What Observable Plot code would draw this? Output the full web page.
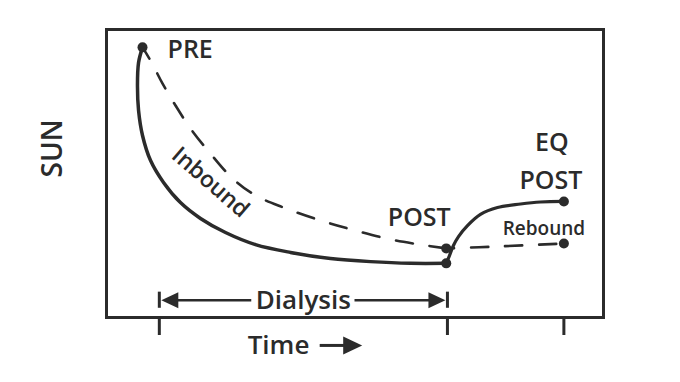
<!DOCTYPE html>
<html>
<head>
<meta charset="utf-8">
<script src="https://cdn.jsdelivr.net/npm/d3@7"></script>
<script src="https://cdn.jsdelivr.net/npm/@observablehq/plot@0.6"></script>
<style>
  html, body { margin: 0; padding: 0; background: #ffffff; }
</style>
</head>
<body>
<div id="chart"></div>
<script>
// Time axis (minutes from start of dialysis), schematic
const tickTimes = [0, 240, 337];

// Solid curve: SUN during dialysis (inbound)
const inboundT   = [-14, -17.3, -18.2, -17.3, -14, -7.3, 3.5, 17.6, 34.3, 55.1, 80.1, 109.3, 142.6, 175.9, 209.2, 239];
const inboundSUN = [93.8, 88.5, 80.6, 71.9, 63.2, 54.5, 46.9, 39.9, 34.4, 29.5, 25.3, 22.6, 20.5, 19.4, 18.8, 18.8];

// Solid curve: SUN after dialysis (rebound)
const reboundT   = [239, 241.7, 245, 249.2, 256.7, 267.5, 281.7, 300.9, 317.5, 337];
const reboundSUN = [18.8, 21.5, 25, 28.1, 31.9, 35.8, 38.2, 39.4, 40.1, 40.3];

// Dashed curve: single-pool model (no inbound / no rebound)
const poolT   = [-14, -7.3, 2.6, 13.5, 26, 42.6, 61, 80.1, 103.4, 134.3, 163.4, 192.6, 217.6, 239];
const poolSUN = [93.8, 89.2, 81.3, 73.6, 65.6, 56.9, 48.3, 42.4, 38.2, 33.7, 30.2, 27.1, 25.3, 24.0];
const poolAfterT   = [239, 284, 337];
const poolAfterSUN = [24.0, 24.7, 25.7];

const ink = "#2b2b2b";
const toRows = (ts, vs) => ts.map((t, i) => ({t, s: vs[i]}));
const inbound = toRows(inboundT, inboundSUN);
const rebound = toRows(reboundT, reboundSUN);
const pool = toRows(poolT, poolSUN);
const poolAfter = toRows(poolAfterT, poolAfterSUN);

const prePt = inbound[0];
const postSolid = inbound[inbound.length - 1];
const postDash = pool[pool.length - 1];
const eqSolid = rebound[rebound.length - 1];
const eqDash = poolAfter[poolAfter.length - 1];
const dots = [prePt, postSolid, postDash, eqSolid, eqDash];

// arrowhead symbols, tip at the anchor point
const arrowHead = (dir, len, half) => ({draw(c) { c.moveTo(0, 0); c.lineTo(-dir * len, -half); c.lineTo(-dir * len, half); c.closePath(); }});
const dialLeft = arrowHead(-1, 17, 8);
const dialRight = arrowHead(1, 17, 8);
const timeHead = arrowHead(1, 19, 9);

const dialY = 6;       // level of the Dialysis bracket
const dialMid = (tickTimes[0] + tickTimes[1]) / 2;
const timeY = -9.7;    // level of the "Time" label below the frame
const font = "'Open Sans', sans-serif";

const chart = Plot.plot({
  width: 680,
  height: 382,
  marginLeft: 106,
  marginRight: 77,
  marginTop: 29,
  marginBottom: 65,
  x: {domain: [-44, 370], axis: null},
  y: {domain: [0, 100], axis: null},
  style: {fontFamily: font, background: "#ffffff", color: ink, overflow: "visible"},
  marks: [
    Plot.frame({stroke: ink, strokeWidth: 3}),
    Plot.axisX({ticks: tickTimes, tickSize: 18, tickFormat: () => "", stroke: ink, strokeWidth: 3, label: null}),
    // dashed model
    Plot.line(pool, {x: "t", y: "s", curve: "catmull-rom", stroke: ink, strokeWidth: 2.6, strokeDasharray: "17,17", strokeDashoffset: 4}),
    Plot.line(poolAfter, {x: "t", y: "s", curve: "catmull-rom", stroke: ink, strokeWidth: 2.6, strokeDasharray: "17,17", strokeDashoffset: 9}),
    // solid measured curves
    Plot.line(inbound, {x: "t", y: "s", curve: "catmull-rom", stroke: ink, strokeWidth: 3.5}),
    Plot.line(rebound, {x: "t", y: "s", curve: "catmull-rom", stroke: ink, strokeWidth: 3.2}),
    Plot.dot(dots, {x: "t", y: "s", r: 5, fill: ink, stroke: "none"}),
    // labels
    Plot.text([prePt], {x: "t", y: "s", text: () => "PRE", textAnchor: "start", dx: 25, dy: 3, fontSize: 25, fontWeight: 600, fill: ink}),
    Plot.text([postDash], {x: "t", y: "s", text: () => "POST", dx: -27, dy: -30, fontSize: 25, fontWeight: 600, fill: ink}),
    Plot.text([eqSolid], {x: "t", y: "s", text: () => "EQ", dx: -12, dy: -58, fontSize: 25, fontWeight: 600, fill: ink}),
    Plot.text([eqSolid], {x: "t", y: "s", text: () => "POST", dx: -13, dy: -20, fontSize: 25, fontWeight: 600, fill: ink}),
    Plot.text([eqDash], {x: "t", y: "s", text: () => "Rebound", dx: -20, dy: -15, fontSize: 19, fontWeight: 600, fill: ink}),
    Plot.text([{t: 42.6, s: 46.9}], {x: "t", y: "s", text: () => "Inbound", rotate: 41, fontSize: 23, fontWeight: 600, fill: ink}),
    // Dialysis bracket
    Plot.ruleX([tickTimes[0], tickTimes[1]], {y1: dialY - 2.8, y2: dialY + 2.8, stroke: ink, strokeWidth: 3}),
    Plot.ruleY([dialY], {x1: tickTimes[0] + 5, x2: dialMid - 43, stroke: ink, strokeWidth: 2.5}),
    Plot.ruleY([dialY], {x1: dialMid + 43, x2: tickTimes[1] - 5, stroke: ink, strokeWidth: 2.5}),
    Plot.dot([{t: tickTimes[0], s: dialY}], {x: "t", y: "s", symbol: dialLeft, r: 8, dx: 2, fill: ink, stroke: "none"}),
    Plot.dot([{t: tickTimes[1], s: dialY}], {x: "t", y: "s", symbol: dialRight, r: 8, dx: -2, fill: ink, stroke: "none"}),
    Plot.text([{t: dialMid, s: dialY}], {x: "t", y: "s", text: () => "Dialysis", fontSize: 26, fontWeight: 600, fill: ink}),
    // Time label with arrow
    Plot.text([{t: 99.3, s: timeY}], {x: "t", y: "s", text: () => "Time", fontSize: 26, fontWeight: 600, fill: ink}),
    Plot.ruleY([timeY], {x1: 134, x2: 155, stroke: ink, strokeWidth: 3}),
    Plot.dot([{t: 169, s: timeY}], {x: "t", y: "s", symbol: timeHead, r: 9, fill: ink, stroke: "none"}),
    // y label
    Plot.text(["SUN"], {frameAnchor: "left", dx: -53, dy: 4, rotate: -90, fontSize: 28, fontWeight: 600, fill: ink})
  ]
});
document.getElementById("chart").appendChild(chart);
</script>
</body>
</html>
